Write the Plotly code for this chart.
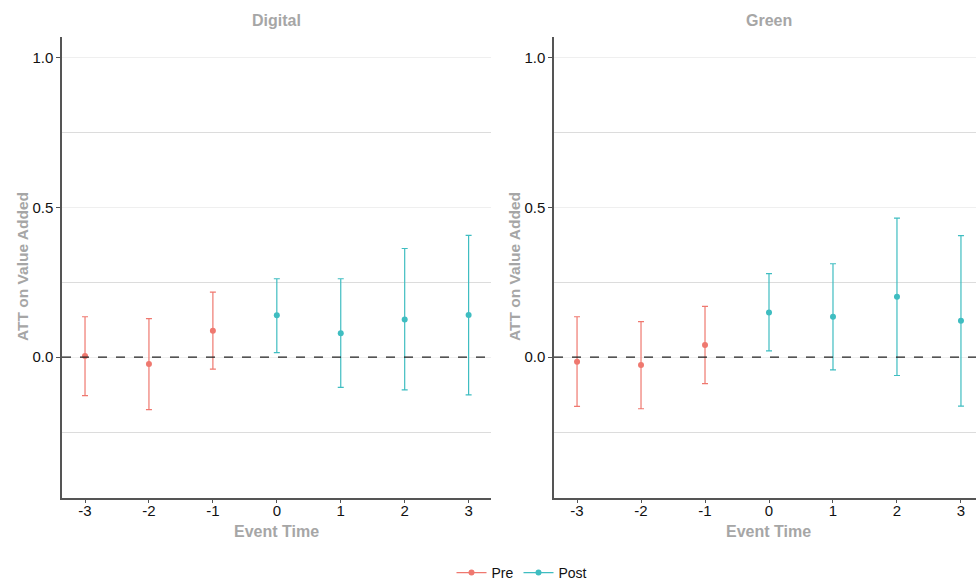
import plotly.graph_objects as go

event_time = [-3, -2, -1, 0, 1, 2, 3]
period = ["Pre", "Pre", "Pre", "Post", "Post", "Post", "Post"]

digital_att = [0.004, -0.023, 0.088, 0.140, 0.080, 0.126, 0.141]
digital_hi = [0.135, 0.129, 0.217, 0.262, 0.262, 0.363, 0.407]
digital_lo = [-0.128, -0.175, -0.040, 0.015, -0.101, -0.109, -0.126]

green_att = [-0.015, -0.026, 0.041, 0.149, 0.135, 0.202, 0.122]
green_hi = [0.135, 0.119, 0.170, 0.279, 0.312, 0.464, 0.406]
green_lo = [-0.164, -0.172, -0.088, 0.021, -0.042, -0.061, -0.163]

panels = [("Digital", digital_att, digital_hi, digital_lo),
          ("Green", green_att, green_hi, green_lo)]
colors = {"Pre": "#EF786F", "Post": "#3FBDC1"}

W, H = 976, 581
FONT = "Liberation Sans, Arial, sans-serif"
GREY = "#A6A6A6"

fig = go.Figure()

x_doms = [(62 / W, 491 / W), (554 / W, 1.0)]
x_ranges = [[-3.36, 3.35], [-3.36, 3.235]]
y_dom = (1 - 497.7 / H, 1 - 37 / H)
y_range = [-0.469, 1.069]

for i, (name, att, hi, lo) in enumerate(panels):
    xa = "x" if i == 0 else "x2"
    ya = "y" if i == 0 else "y2"
    for grp in ["Pre", "Post"]:
        idx = [k for k, p in enumerate(period) if p == grp]
        xs = [event_time[k] for k in idx]
        ys = [att[k] for k in idx]
        up = [hi[k] - att[k] for k in idx]
        dn = [att[k] - lo[k] for k in idx]
        fig.add_trace(go.Scatter(
            x=xs, y=ys, mode="markers", xaxis=xa, yaxis=ya,
            marker=dict(color=colors[grp], size=6),
            error_y=dict(type="data", symmetric=False, array=up, arrayminus=dn,
                         color=colors[grp], thickness=1.2, width=3),
            showlegend=False, hoverinfo="x+y"))
    # dashed zero line
    fig.add_shape(type="line", xref=f"{xa} domain", yref=ya, x0=0, x1=1, y0=0, y1=0,
                  line=dict(color="#222222", width=1.2, dash="dash"))
    xc = x_doms[i][0] + 214.5 / W
    fig.add_annotation(text=f"<b>{name}</b>", x=xc, y=1 - 20.7 / H, xref="paper", yref="paper",
                       xanchor="center", yanchor="middle",
                       showarrow=False, font=dict(family=FONT, size=16, color=GREY))
    fig.add_annotation(text="<b>Event Time</b>", x=xc, y=1 - 531 / H, xref="paper", yref="paper",
                       xanchor="center", yanchor="middle",
                       showarrow=False, font=dict(family=FONT, size=16, color=GREY))
    fig.add_annotation(text="<b>ATT on Value Added</b>", x=(22 if i == 0 else 514) / W,
                       y=1 - 267 / H, xref="paper", yref="paper", textangle=-90,
                       xanchor="center", yanchor="middle",
                       showarrow=False, font=dict(family=FONT, size=15.5, color=GREY))

# legend entries
for grp in ["Pre", "Post"]:
    fig.add_trace(go.Scatter(x=[None], y=[None], mode="lines+markers", name=grp,
                             marker=dict(color=colors[grp], size=6),
                             line=dict(color=colors[grp], width=1.2)))

axis_common_x = dict(tickmode="array", tickvals=event_time, ticktext=[str(v) for v in event_time],
                     showgrid=False, zeroline=False, showline=True, linecolor="#555555", linewidth=1.5,
                     ticks="outside", ticklen=4, tickcolor="#555555", ticklabelstandoff=-5,
                     tickfont=dict(family=FONT, size=15, color="#111111"))
axis_common_y = dict(range=y_range, tickvals=[0, 0.5, 1.0], ticktext=["0.0", "0.5", "1.0"],
                     showgrid=True, gridcolor="#EFEFEF", gridwidth=1,
                     minor=dict(tickvals=[-0.25, 0.25, 0.75], showgrid=True, gridcolor="#DCDCDC",
                                gridwidth=1, ticks=""),
                     zeroline=False, showline=True, linecolor="#555555", linewidth=1.5,
                     ticks="outside", ticklen=4, tickcolor="#555555",
                     tickfont=dict(family=FONT, size=15, color="#111111"))

fig.update_layout(
    width=W, height=H, margin=dict(l=0, r=0, t=0, b=0, autoexpand=False),
    paper_bgcolor="white", plot_bgcolor="white",
    xaxis=dict(domain=x_doms[0], range=x_ranges[0], anchor="y", automargin=False, **axis_common_x),
    yaxis=dict(domain=y_dom, anchor="x", automargin=False, **axis_common_y),
    xaxis2=dict(domain=x_doms[1], range=x_ranges[1], anchor="y2", automargin=False, **axis_common_x),
    yaxis2=dict(domain=y_dom, anchor="x2", automargin=False, **axis_common_y),
    showlegend=True,
    legend=dict(orientation="h", x=522 / W, xanchor="center", y=1 - 573 / H, yanchor="middle",
                font=dict(family=FONT, size=14, color="#111111"), itemwidth=30,
                bgcolor="rgba(0,0,0,0)", tracegroupgap=0),
)

fig.write_html("out.html")
